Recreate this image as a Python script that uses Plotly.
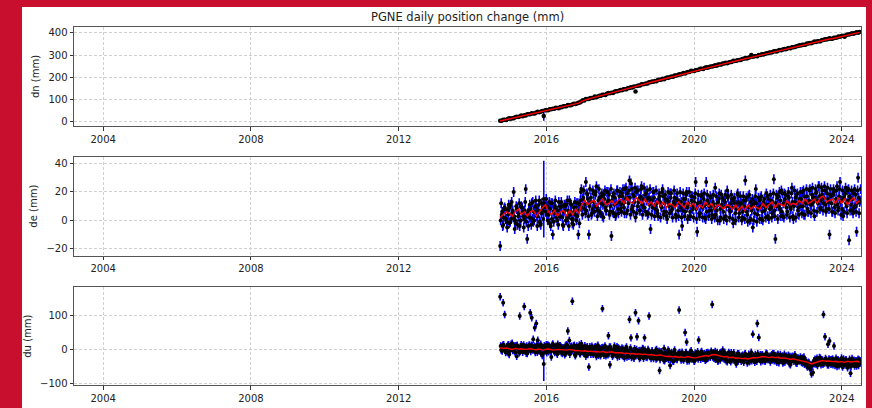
import pandas as pd
import plotly.graph_objects as go

TITLE = "PGNE daily position change (mm)"
START, END = "2014-10-01", "2024-06-25"
X_TICKS = ["2004", "2008", "2012", "2016", "2020", "2024"]
Y_LABELS = ["dn (mm)", "de (mm)", "du (mm)"]

dn = [3, 3, 7, 7, 6, 11, 14, 12, 14, 14, 19, 21, 20, 22, 27, 23, 28, 27, 32, 32,
      32, 37, 36, 36, 40, 44, 41, 44, 47, 25, 50, 50, 50, 55, 55, 57, 57, 62, 61, 60,
      65, 64, 69, 69, 69, 74, 73, 73, 77, 80, 79, 81, 84, 86, 90, 96, 95, 101, 101, 101,
      106, 106, 107, 113, 109, 113, 116, 116, 121, 121, 120, 125, 129, 127, 130, 129, 134, 137, 136, 139,
      142, 141, 146, 146, 146, 151, 151, 155, 154, 158, 135, 160, 163, 163, 168, 168, 169, 172, 171, 177,
      177, 181, 180, 183, 182, 189, 188, 189, 193, 191, 195, 199, 198, 201, 203, 202, 208, 208, 209, 213,
      212, 216, 219, 217, 221, 223, 223, 229, 228, 228, 232, 233, 234, 238, 238, 237, 242, 245, 243, 246,
      248, 248, 251, 254, 252, 257, 257, 258, 262, 262, 265, 263, 267, 269, 269, 274, 273, 274, 277, 278,
      278, 282, 283, 287, 285, 288, 290, 301, 292, 295, 296, 295, 300, 301, 304, 303, 305, 308, 308, 312,
      312, 313, 317, 317, 316, 321, 323, 322, 325, 328, 327, 330, 332, 331, 336, 336, 337, 340, 341, 345,
      343, 347, 347, 347, 353, 352, 355, 354, 357, 361, 359, 363, 363, 363, 368, 368, 372, 371, 373, 376,
      374, 374, 378, 379, 380, 384, 383, 386, 388, 383, 390, 393, 393, 395, 399, 397, 400, 403, 401, 405]

# de: three interleaved daily samples per step
de = [-18, 4, -3, 9, 1, 7, -2, 11, 5, 20, 0, 8, 3, -4, 10, 6, 1, 22, -13, 7,
      2, 12, -1, 6, 9, 3, 14, -3, 7, 15, 10, 4, 9, -2, 12, -10, 5, 8, 0, 13,
      3, 10, -4, 7, 11, 2, 14, 6, -2, 9, 4, 12, -10, 11, 22, 15, 8, 27, 18, -10,
      13, 5, 19, 10, 24, 7, 16, 12, 3, 18, 9, 20, 14, 6, -11, 17, 11, 4, 21, 13,
      8, 19, 12, 22, 5, 16, 28, 26, 10, 17, 2, 21, 13, 7, 24, 15, 9, 19, 4, 16,
      -6, 14, 20, 8, 12, 3, 17, 10, 22, 6, 15, 1, 13, 19, 7, 11, 16, 2, 14, -10,
      9, -4, 15, 6, 20, 11, 3, 17, 8, 13, 27, -8, 12, 5, 18, 10, 2, 27, 14, 7,
      16, 4, 11, 23, 7, 13, 0, 18, 9, 14, 3, 21, 10, 6, 15, -2, 12, 8, 19, 5,
      11, 2, 14, 28, 6, 17, 0, 10, -5, 13, 22, 4, 9, 16, 1, 12, 7, 19, 3, 11,
      14, 5, 29, -13, 10, 17, 8, 21, 3, 19, 12, 6, 16, 9, 23, 1, 13, 18, 7, 15,
      10, 20, 4, 13, 17, 6, 22, 11, 16, 3, 19, 14, 24, 9, 18, 12, 21, 8, 15, -10,
      17, 6, 20, 11, 24, 9, 27, 14, 3, 18, 12, 21, -14, 16, 7, 19, 10, -8, 30, 13]

de_b = [0, 6, 2, 8, -1, 4, 9, 1, 7, 3, -2, 8, 5, 0, 9, 3, 7, -1, 5, 2,
        8, 1, 6, 10, 3, 7, -1, 5, 9, 12, 6, 10, 4, 8, 1, 6, 10, 2, 7, 4,
        9, 2, 6, 10, 0, 7, 4, 11, 1, 6, 9, 3, 7, 14, 9, 16, 11, 7, 15, 10,
        16, 8, 13, 18, 9, 14, 6, 17, 11, 15, 7, 13, 18, 10, 14, 5, 16, 12, 8, 17,
        11, 17, 9, 15, 19, 12, 16, 8, 18, 13, 20, 10, 15, 17, 11, 9, 18, 14, 16, 11,
        14, 9, 16, 11, 7, 15, 13, 9, 17, 12, 6, 14, 10, 16, 8, 13, 11, 15, 7, 12,
        13, 7, 11, 15, 9, 12, 6, 14, 10, 16, 8, 12, 5, 13, 9, 15, 11, 6, 12, 10,
        7, 13, 9, 4, 12, 15, 8, 11, 6, 13, 10, 16, 7, 12, 9, 14, 5, 11, 13, 8,
        12, 6, 10, 14, 4, 9, 13, 7, 11, 5, 12, 8, 14, 10, 6, 13, 9, 11, 15, 8,
        9, 13, 7, 12, 16, 10, 14, 6, 12, 15, 9, 17, 11, 8, 13, 10, 16, 12, 9, 14,
        15, 10, 17, 12, 8, 14, 11, 18, 13, 16, 20, 12, 17, 14, 21, 16, 11, 19, 13, 18,
        12, 18, 9, 15, 11, 17, 13, 8, 16, 19, 10, 14, 17, 11, 15, 9, 18, 12, 16, 14]

de_c = [12, -4, 8, 1, -5, 11, -1, 13, 2, -6, 10, -3, 12, 0, 9, -5, 13, 3, -4, 11,
        -3, 13, 0, 14, -4, 11, -2, 12, 1, 9, 15, 0, 13, -4, 12, -1, 14, 2, -3, 10,
        13, -3, 11, 0, 14, -4, 12, 1, -3, 13, 0, 12, -2, 20, 4, 21, 5, 19, 3, 22,
        4, 21, 6, 20, 3, 22, 5, 19, 2, 21, 7, 20, 4, 22, 6, 19, 3, 21, 5, 20,
        6, 22, 5, 23, 7, 21, 4, 22, 6, 23, 5, 21, 7, 22, 4, 23, 6, 21, 5, 22,
        4, 20, 3, 21, 5, 19, 2, 20, 4, 18, 3, 20, 5, 19, 2, 21, 4, 19, 3, 20,
        2, 19, 3, 18, 1, 20, 3, 17, 2, 19, 1, 18, 3, 17, 2, 19, 1, 18, 3, 17,
        1, 18, 2, 17, 0, 19, 2, 16, 1, 18, 0, 17, 2, 18, 1, 16, 0, 18, 2, 17,
        0, 17, 1, 16, -1, 18, 1, 15, 0, 17, -1, 16, 1, 17, 0, 15, 2, 17, 1, 18,
        2, 19, 3, 18, 1, 20, 3, 19, 2, 18, 4, 20, 2, 19, 3, 21, 2, 19, 4, 20,
        5, 21, 4, 22, 6, 21, 5, 23, 7, 22, 6, 24, 8, 23, 7, 24, 6, 23, 8, 22,
        6, 22, 5, 21, 7, 22, 4, 21, 6, 23, 5, 22, 7, 21, 5, 22, 6, 21, 5, 22]

du = [155, 8, 137, 103, -6, 12, -15, 5, 18, -2, 10, -20, 3, 98, 14, -8, 126, 6, -12, 9,
      108, 93, 30, 64, 76, 27, -4, 15, -18, -43, 7, -10, 12, 2, -22, 16, -5, 9, -14, 4,
      11, -8, 3, -16, 14, 54, 26, -6, 142, 5, -19, 10, -2, -12, 17, -7, 2, -20, 8, -52,
      -3, 9, -14, 4, -21, 12, -8, 1, 120, -17, 6, -10, 40, -45, -2, -15, 10, -6, -22, 3,
      -12, 4, -20, -5, 7, -18, 88, 34, -9, -26, 108, 37, 84, -3, -17, 2, 34, -22, -8, 98,
      -15, -4, -27, -10, 0, -21, -62, -7, -18, 3, -25, -12, -30, -47, -9, -19, -2, -28, -14, 116,
      -23, -8, -31, 50, 22, -15, -27, -4, -20, -35, -12, -24, 28, -17, -6, -26, -13, -30, -9, -19,
      -14, 132, -25, -6, -20, -33, -11, -22, -2, -28, -17, -36, -9, -24, -15, -31, -20, -43, -12, -26,
      -30, -18, -38, -13, -27, -21, -35, -8, 45, -25, -32, 76, 35, -16, -29, -20, -34, -11, -24, -28,
      -19, -31, -13, -26, -38, -17, -28, -22, -40, -14, -27, -33, -20, -45, -24, -30, -16, -36, -25, -32,
      -28, -40, -22, -35, -48, -38, -55, -72, -68, -42, -30, -47, -35, -26, -40, 103, 37, -31, 15, 25,
      -44, -28, 10, -39, -50, -33, -42, -25, -47, -36, -30, -54, -38, -70, -27, -43, -34, -49, -29, -40]

du_b = [10, -5, 14, 0, 8, -10, 5, 15, -3, 9, -8, 12, 2, -6, 11, -2, 7, -11, 4, 13,
        -6, 10, 2, -9, 14, -3, 8, -12, 5, 11, -4, 13, -7, 6, 0, 12, -9, 3, 15, -5,
        8, -12, 4, 10, -7, 2, -14, 9, -3, 12, -10, 1, 6, -13, 3, -8, 11, -5, -15, 0,
        -14, 4, -9, 8, -2, -17, 3, -11, 6, -6, -19, 1, -13, 7, -8, -16, 0, -12, 5, -20,
        0, -18, -7, 3, -22, -10, -1, -24, -6, 2, -19, -12, -4, -23, -9, -26, -2, -15, 0, -21,
        -27, -9, -20, -3, -25, -14, -30, -8, -19, -33, -12, -24, -6, -29, -16, -35, -11, -26, -18, -9,
        -31, -14, -26, -10, -34, -19, -8, -28, -16, -33, -24, -7, -18, -29, -12, -21, -32, -10, -25, -15,
        -5, -22, -12, -29, -9, -18, -31, -14, -25, -8, -33, -20, -13, -36, -19, -10, -28, -17, -34, -21,
        -35, -17, -30, -22, -40, -14, -27, -33, -19, -38, -24, -12, -29, -36, -16, -25, -34, -13, -30, -20,
        -27, -12, -33, -18, -28, -39, -15, -30, -24, -37, -19, -32, -42, -21, -29, -35, -23, -41, -27, -34,
        -38, -25, -44, -33, -52, -40, -58, -47, -39, -29, -43, -36, -24, -45, -31, -41, -27, -38, -46, -30,
        -30, -45, -37, -26, -42, -48, -33, -40, -28, -46, -35, -41, -29, -50, -38, -32, -44, -36, -47, -33]

du_c = [-2, 12, 6, -9, 3, 14, -4, 9, 1, -7, 11, 5, -10, 8, 0, 13, -5, 10, -1, 6,
        12, -2, 9, 4, -8, 11, 1, 7, -11, 5, 14, -1, 10, -6, 13, -3, 8, -10, 2, 11,
        -9, 5, -2, -11, 12, -6, 7, -1, 10, -15, 4, -7, 13, -4, 9, -12, 1, 6, -9, 8,
        0, -12, 6, -15, 9, -4, -19, 5, -11, 10, -3, -16, 7, -7, -20, 2, -14, 8, -9, -1,
        -16, 1, -25, -8, -3, -20, 4, -13, -22, -6, 0, -17, -27, -11, 3, -18, -9, -24, -4, -14,
        -8, -22, -12, -28, -17, -5, -24, -15, -31, -10, -26, -2, -20, -13, -34, -7, -23, -30, -11, -21,
        -13, -29, -20, -9, -25, -33, -14, -21, -30, -11, -19, -28, -15, -8, -26, -13, -20, -27, -11, -23,
        -18, -10, -27, -15, -34, -21, -9, -24, -16, -30, -20, -14, -32, -10, -26, -22, -38, -19, -13, -29,
        -20, -32, -14, -28, -23, -36, -18, -25, -31, -15, -35, -21, -27, -17, -33, -22, -14, -30, -24, -37,
        -16, -30, -22, -35, -14, -25, -32, -19, -37, -26, -31, -17, -28, -36, -20, -27, -39, -25, -33, -22,
        -27, -36, -31, -46, -41, -50, -44, -47, -33, -42, -26, -37, -40, -30, -44, -33, -39, -45, -28, -37,
        -42, -32, -47, -39, -30, -43, -36, -52, -41, -31, -45, -38, -48, -34, -40, -49, -33, -43, -31, -39]

dn_red = [2, 5, 8, 11, 14, 17.5, 20.6, 23.7, 26.8, 29.9,
          33, 36, 39, 42, 45, 48.5, 51.6, 54.7, 57.8, 61,
          64, 67, 70, 73, 76, 79.5, 83, 91, 97, 100.5,
          104, 108, 111, 115, 119, 122, 126, 130, 133, 137,
          140.5, 144, 148, 151, 155, 159, 162, 166, 170, 173,
          177, 180.5, 184, 188, 191.5, 195, 199, 202, 206, 210,
          213, 217, 220.5, 224, 228, 231, 234.5, 237.7, 241, 244,
          247, 250.6, 254, 257, 260, 263.5, 266.7, 270, 273, 276.4,
          279.6, 283, 286, 289, 292.5, 295.7, 299, 302, 305.4, 308.6,
          312, 315, 318, 321.5, 325, 328, 331, 334.4, 337.7, 341,
          344, 347, 350.5, 354, 357, 360, 363.4, 366.6, 370, 373,
          374, 377.5, 381, 384, 387, 390, 393.6, 397, 400, 403]

de_red = [2, 4, 6, 5, 3, 6, 8, 4, 6, 3,
          6, 7, 3, 6, 9, 11, 6, 4, 7, 3,
          6, 7, 3, 7, 4, 8, 5, 11, 14, 11,
          13, 14, 10, 13, 15, 11, 12, 14, 11, 14,
          15, 12, 16, 13, 12, 16, 14, 12, 15, 11,
          13, 10, 14, 10, 13, 9, 12, 11, 9, 13,
          11, 9, 13, 10, 12, 8, 11, 9, 13, 10,
          12, 8, 11, 10, 8, 11, 10, 8, 11, 7,
          10, 7, 11, 8, 10, 9, 8, 12, 9, 11,
          13, 9, 12, 11, 10, 14, 11, 12, 11, 14,
          12, 15, 12, 13, 15, 12, 16, 17, 13, 14,
          15, 12, 16, 12, 15, 11, 14, 16, 12, 14]

du_red = [5, 3, 4, 2, 0, 3, 1, 2, 0, 1,
          2, 0, -1, 1, -2, 0, 1, -1, -2, 0,
          -1, -3, -2, 0, -2, -4, -3, -5, -4, -6,
          -5, -7, -6, -8, -6, -9, -8, -7, -10, -9,
          -10, -12, -11, -13, -12, -14, -13, -15, -14, -16,
          -15, -17, -18, -16, -19, -21, -20, -22, -21, -23,
          -22, -24, -21, -23, -25, -24, -22, -20, -18, -20,
          -16, -15, -18, -20, -22, -21, -24, -23, -26, -25,
          -27, -26, -28, -26, -24, -25, -23, -21, -22, -24,
          -22, -24, -23, -26, -25, -27, -29, -28, -30, -31,
          -32, -34, -38, -43, -40, -36, -34, -33, -35, -34,
          -36, -35, -37, -36, -38, -35, -37, -36, -35, -37]

# typical daily sigmas (mm) and the one noisy day (index of the wide bar)
SIGMA = {"dn": 1.5, "de": 3.5, "du": 11}
WIDE_DAY = 29
WIDE_SIGMA = {"dn": 22, "de": 27, "du": 50}

dates = pd.date_range(START, END, periods=len(dn))
dates_b = dates + pd.Timedelta(days=5)
dates_c = dates + pd.Timedelta(days=10)
red_dates = pd.date_range(START, END, periods=len(dn_red))

FONT = "DejaVu Sans"
W, H = 872, 408
X0, X1 = 74 / W, 861 / W
PANELS = [  # (top px, bottom px, y range, tick values, marker size)
    (27, 127, [-21, 428], [0, 100, 200, 300, 400], 4.5),
    (157.7, 257.7, [-24.9, 44.9], [-20, 0, 20, 40], 4),
    (289, 388.3, [-106, 184], [-100, 0, 100], 4),
]
series = [("dn", [dn], dn_red), ("de", [de, de_b, de_c], de_red), ("du", [du, du_b, du_c], du_red)]
all_dates = [dates, dates_b, dates_c]

fig = go.Figure()
layout = dict(
    width=W, height=H,
    margin=dict(l=0, r=0, t=0, b=0),
    paper_bgcolor="#c8102e",
    plot_bgcolor="white",
    showlegend=False,
    font=dict(family=FONT, size=10, color="#222"),
)

for k, (name, lists, red) in enumerate(series):
    n = "" if k == 0 else str(k + 1)
    xs, ys, errs = [], [], []
    for j, vals in enumerate(lists):
        e = [SIGMA[name]] * len(vals)
        if j == 0:
            e[WIDE_DAY] = WIDE_SIGMA[name]
        xs += list(all_dates[j])
        ys += list(vals)
        errs += e
    top, bot, yr, yt, msize = PANELS[k]
    fig.add_trace(go.Scatter(
        x=xs, y=ys, mode="markers", xaxis="x" + n, yaxis="y" + n,
        marker=dict(color="black", size=msize, line=dict(width=0)),
        error_y=dict(type="data", array=errs, color="#0000ff", thickness=1.6, width=0),
        hoverinfo="skip",
    ))
    fig.add_trace(go.Scatter(
        x=red_dates, y=red, mode="lines", xaxis="x" + n, yaxis="y" + n,
        line=dict(color="red", width=1.4), hoverinfo="skip",
    ))
    common = dict(showline=True, mirror=True, linecolor="#555", linewidth=1,
                  ticks="outside", ticklen=3.5, tickcolor="#333",
                  showgrid=True, gridcolor="#d0d0d0", griddash="3px,2px", gridwidth=0.8,
                  zeroline=False, tickfont=dict(family=FONT, size=10, color="#222"))
    layout["xaxis" + n] = dict(
        common, domain=[X0, X1], anchor="y" + n, type="date",
        range=["2003-03-18", "2024-07-09"],
        tickvals=[f"{t}-01-01" for t in X_TICKS], ticktext=X_TICKS,
    )
    layout["yaxis" + n] = dict(
        common, domain=[1 - bot / H, 1 - top / H], anchor="x" + n,
        range=yr, tickvals=yt,
        title=dict(text=Y_LABELS[k], standoff=6, font=dict(family=FONT, size=10, color="#222")),
    )

layout["shapes"] = [dict(type="rect", xref="paper", yref="paper",
                         x0=22 / W, x1=866 / W, y0=-0.01, y1=1 - 7 / H,
                         fillcolor="white", line=dict(width=0), layer="below")]
layout["annotations"] = [dict(text=TITLE, xref="paper", yref="paper",
                              x=467.5 / W, y=1 - 17 / H, showarrow=False,
                              xanchor="center", yanchor="middle",
                              font=dict(family=FONT, size=11.5, color="#222"))]
fig.update_layout(**layout)
fig.write_html("out.html")
